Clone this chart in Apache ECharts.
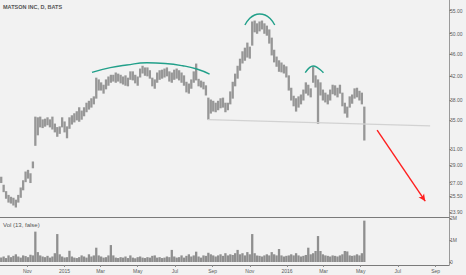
<!DOCTYPE html>
<html><head><meta charset="utf-8">
<script src="https://cdn.jsdelivr.net/npm/echarts@6/dist/echarts.min.js"></script>
<style>html,body{margin:0;padding:0;background:#f2f2f2;}#c{width:466px;height:275px;}</style>
</head><body><div id="c"></div>
<script>
const chartTitle = 'MATSON INC, D, BATS';
const volTitle = 'Vol (13, false)';
const startDate = '2014-09-19';
const stepDays = 4;
const highs = [
27.6,26.7,26.0,25.6,25.4,25.3,25.1,25.6,26.4,27.2,
28.2,28.4,28.0,29.4,35.4,35.3,35.4,35.0,35.1,35.3,
35.0,35.4,34.4,33.9,34.0,35.3,34.7,34.0,35.3,35.6,
35.9,36.2,36.8,36.3,36.8,37.5,37.8,38.2,38.5,41.6,
41.3,40.8,40.4,41.3,41.8,42.1,42.1,42.5,42.3,42.1,
41.8,42.0,41.6,42.7,42.7,42.1,41.8,43.2,43.7,43.4,
43.4,42.9,41.6,41.3,42.5,42.9,43.0,43.2,43.4,42.7,
42.5,43.0,43.2,42.9,42.5,42.0,40.9,40.6,41.3,42.7,
44.1,41.4,41.1,40.9,40.3,38.3,38.0,37.8,37.5,37.8,
38.2,38.3,37.5,37.5,39.3,40.9,42.3,43.7,45.0,46.4,
47.1,48.1,47.3,52.5,52.7,52.1,52.5,52.7,52.1,51.6,
50.8,49.1,46.7,45.4,44.7,44.3,43.9,43.6,42.0,39.9,
38.6,38.2,38.5,38.8,39.6,40.8,40.4,39.8,43.6,42.0,
41.3,40.8,39.6,39.1,38.8,39.6,40.4,40.3,39.9,40.4,
39.1,37.5,36.9,38.5,38.8,39.8,39.9,39.4,39.1,36.9];
const lows = [
27.0,26.0,25.3,24.9,24.8,24.6,24.4,24.9,25.4,26.2,
27.1,27.5,27.0,28.7,31.5,32.9,34.0,33.9,34.1,34.3,
34.0,33.7,33.3,32.7,33.1,34.0,33.3,32.5,33.8,34.4,
34.7,35.0,34.8,35.1,35.6,36.2,36.6,36.9,37.4,38.3,
39.6,39.6,39.1,39.8,40.4,40.9,41.1,40.9,41.1,40.8,
40.6,40.4,40.3,41.4,41.3,40.8,40.4,41.8,42.5,42.1,
42.0,41.6,40.3,39.9,40.9,41.4,41.6,41.8,42.0,41.1,
40.9,41.4,41.6,41.3,40.9,40.4,39.3,39.1,39.9,40.9,
41.3,40.3,40.1,39.8,38.8,35.1,36.0,36.3,36.2,36.5,
36.8,36.9,36.2,36.5,37.4,38.3,40.3,41.6,43.0,44.3,
44.8,45.4,45.2,47.7,50.4,50.1,50.6,51.0,50.1,49.7,
48.1,45.8,44.5,43.7,42.8,42.7,42.5,41.8,39.6,38.0,
37.1,36.3,36.9,37.4,38.0,39.1,38.8,38.5,40.9,40.1,
34.5,38.8,38.0,37.7,37.4,38.0,39.0,38.8,38.5,39.1,
37.1,36.0,35.4,36.9,37.5,38.3,38.5,38.0,37.4,32.2];
const lastClose = 32.76;
const volumesM = [
0.20,0.25,0.18,0.30,0.22,0.28,0.35,0.25,0.20,0.30,
0.27,0.22,0.33,0.30,1.38,0.45,0.30,0.25,0.22,0.28,
0.20,0.25,0.40,1.27,0.35,0.25,0.20,0.22,0.51,0.25,
0.20,0.18,0.22,0.30,0.25,0.20,0.35,0.25,0.30,0.65,
0.30,0.25,0.20,0.22,0.30,0.77,0.30,0.20,0.18,0.22,
0.20,0.25,0.18,0.30,0.20,0.17,0.22,0.25,0.20,0.18,
0.22,0.20,0.28,0.30,0.20,0.22,0.18,0.20,0.25,0.22,
0.55,0.25,0.20,0.22,0.30,0.20,0.28,0.35,0.25,0.30,
0.47,0.25,0.20,0.30,0.28,0.42,0.35,0.30,0.25,0.30,
0.35,0.28,0.40,0.30,0.35,0.32,0.40,0.55,0.35,0.40,
0.30,0.45,0.35,1.27,0.40,0.30,0.28,0.25,0.30,0.35,
0.30,0.45,0.35,0.30,0.59,0.30,0.25,0.28,0.30,0.35,
0.30,0.40,0.30,0.25,0.28,0.32,0.65,0.35,0.40,0.50,
1.18,0.50,0.35,0.30,0.28,0.25,0.30,0.28,0.25,0.30,
0.35,0.50,0.48,0.30,0.28,0.30,0.35,0.30,0.40,1.88];
const priceTicks = [55.00, 50.00, 46.00, 42.00, 38.00, 35.00, 31.00, 29.00, 27.00, 25.50, 23.90];
const volTicks = [0, 1, 2];
const monthTicks = ['2014-11-01','2015-01-01','2015-03-01','2015-05-01','2015-07-01','2015-09-01',
  '2015-11-01','2016-01-01','2016-03-01','2016-05-01','2016-07-01','2016-09-01'];
const monthNames = ['Jan','Feb','Mar','Apr','May','Jun','Jul','Aug','Sep','Oct','Nov','Dec'];
const arcPlateau = [['2015-02-15',42.62],['2015-03-17',43.45],['2015-04-13',43.93],['2015-05-16',44.33],
  ['2015-06-15',44.20],['2015-07-14',43.79],['2015-08-06',43.21],['2015-08-27',42.32]];
const arcHead = [['2015-10-24',51.85],['2015-11-01',53.30],['2015-11-09',54.04],['2015-11-17',54.26],
  ['2015-11-26',54.04],['2015-12-04',53.30],['2015-12-12',51.85]];
const arcShoulder = [['2016-01-31',42.55],['2016-02-07',43.45],['2016-02-13',43.75],['2016-02-20',43.45],['2016-03-01',42.55]];
const neckline = [['2015-08-24',35.05],['2016-08-23',34.13]];
const arrowLine = [['2016-05-28',33.56],['2016-08-15',25.0]];
const xRange = ['2014-09-17','2016-09-23'];
const priceRange = [23.41, 57.5];
const volRange = [-0.136, 2.045];

const ts = s => new Date(s + 'T00:00:00Z').getTime();
const DAY = 86400000;
const t0 = ts(startDate);
const sampleDates = highs.map((_, i) => t0 + i * stepDays * DAY);
const L = Math.log;
const toPts = arr => arr.map(p => [ts(p[0]), L(p[1])]);

const fontFamily = 'Liberation Sans, Arial, sans-serif';
const axisTextColor = '#5a5a5a';
const teal = '#22a08a';
const barGrey = '#979797';

const chart = echarts.init(document.getElementById('c'), null, {renderer: 'svg', width: 466, height: 275});
chart.setOption({
  animation: false,
  backgroundColor: '#f2f2f2',
  textStyle: {fontFamily},
  title: [
    {text: chartTitle, left: 3, top: 4, padding: 0, textStyle: {fontSize: 5.5, fontWeight: 'bold', color: '#555', fontFamily}},
    {text: volTitle, left: 3, top: 222, padding: 0, textStyle: {fontSize: 6, fontWeight: 'normal', color: '#555', fontFamily}}
  ],
  grid: [
    {left: 0, right: 17, top: 0, height: 217},
    {left: 0, right: 17, top: 217, height: 48}
  ],
  xAxis: [
    {type: 'value', gridIndex: 0, min: ts(xRange[0]), max: ts(xRange[1]),
     axisLabel: {show: false}, axisTick: {show: false}, splitLine: {show: false},
     axisLine: {show: true, onZero: false, lineStyle: {color: '#7a7a7a', width: 1}}},
    {type: 'value', gridIndex: 1, min: ts(xRange[0]), max: ts(xRange[1]),
     splitLine: {show: false},
     axisLine: {show: true, onZero: false, lineStyle: {color: '#7a7a7a', width: 1}},
     axisTick: {show: true, length: 2, customValues: monthTicks.map(ts), lineStyle: {color: '#888'}},
     axisLabel: {show: true, customValues: monthTicks.map(ts), fontSize: 5, color: axisTextColor, margin: 3,
       formatter: v => { const d = new Date(v); const m = d.getUTCMonth(); return m === 0 ? String(d.getUTCFullYear()) : monthNames[m]; }}}
  ],
  yAxis: [
    {type: 'value', gridIndex: 0, position: 'right', min: L(priceRange[0]), max: L(priceRange[1]),
     splitLine: {show: false},
     axisLine: {show: true, onZero: false, lineStyle: {color: '#9a9a9a', width: 1}},
     axisTick: {show: true, length: 2, customValues: priceTicks.map(L), lineStyle: {color: '#888'}},
     axisLabel: {show: true, customValues: priceTicks.map(L), fontSize: 5, color: axisTextColor, margin: 1,
       formatter: v => Math.exp(v).toFixed(2)}},
    {type: 'value', gridIndex: 1, position: 'right', min: volRange[0], max: volRange[1],
     splitLine: {show: false},
     axisLine: {show: true, onZero: false, lineStyle: {color: '#9a9a9a', width: 1}},
     axisTick: {show: true, length: 2, customValues: volTicks, lineStyle: {color: '#888'}},
     axisLabel: {show: true, customValues: volTicks, fontSize: 5, color: axisTextColor, margin: 1,
       formatter: v => v === 0 ? '0' : v + 'M'}}
  ],
  series: [
    {type: 'custom', xAxisIndex: 0, yAxisIndex: 0, silent: true, clip: true,
     data: highs.map((h, i) => [sampleDates[i], L(lows[i]), L(h)]),
     encode: {x: 0, y: [1, 2]},
     renderItem: (params, api) => {
       const lo = api.coord([api.value(0), api.value(1)]);
       const hi = api.coord([api.value(0), api.value(2)]);
       return {type: 'line', shape: {x1: lo[0], y1: lo[1] + 0.5, x2: hi[0], y2: hi[1] - 0.5},
               style: {stroke: barGrey, lineWidth: 2.3}};
     }},
    {type: 'bar', xAxisIndex: 1, yAxisIndex: 1, silent: true, barWidth: 2.3,
     itemStyle: {color: '#8f8f8f'},
     data: volumesM.map((v, i) => [sampleDates[i], v])},
    {type: 'line', xAxisIndex: 0, yAxisIndex: 0, silent: true, symbol: 'none',
     lineStyle: {color: '#d2d2d2', width: 1.2}, data: toPts(neckline),
     markLine: {silent: true, symbol: ['none', 'none'], animation: false,
       data: [
         [{coord: toPts(arrowLine)[0], symbol: 'none'},
          {coord: toPts(arrowLine)[1], symbol: 'arrow', symbolSize: [5, 7],
           lineStyle: {color: '#ff1f1f', width: 1.4, type: 'solid'}, label: {show: false}}],
         {yAxis: L(lastClose), lineStyle: {opacity: 0},
          label: {show: true, position: 'end', formatter: lastClose.toFixed(2), distance: 0,
                  backgroundColor: '#333', color: '#fff', fontSize: 5, padding: [2, 2, 1, 2], fontFamily}}
       ],
       lineStyle: {color: '#ff1f1f', width: 1.4, type: 'solid'},
       label: {show: false}}},
    {type: 'line', xAxisIndex: 0, yAxisIndex: 0, silent: true, symbol: 'none', smooth: true,
     lineStyle: {color: teal, width: 1.4}, data: toPts(arcPlateau)},
    {type: 'line', xAxisIndex: 0, yAxisIndex: 0, silent: true, symbol: 'none', smooth: true,
     lineStyle: {color: teal, width: 1.4}, data: toPts(arcHead)},
    {type: 'line', xAxisIndex: 0, yAxisIndex: 0, silent: true, symbol: 'none', smooth: true,
     lineStyle: {color: teal, width: 1.4}, data: toPts(arcShoulder)}
  ]
});
</script></body></html>
